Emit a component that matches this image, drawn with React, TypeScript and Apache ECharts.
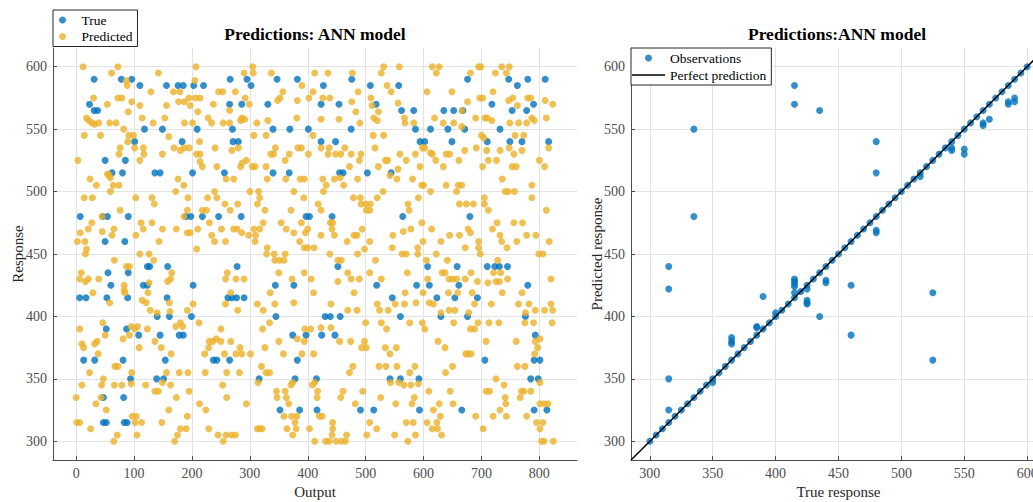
import { useEffect, useRef } from "react";
import * as echarts from "echarts";

// ---------- Left chart: True values per output index ----------
const trueA: number[][] = [
  [31,590],[78,590],[96,590],[23,570],[31,565],[37,565],[110,585],[156,585],[176,585],[185,585],[203,585],[220,585],[266,590],[265,570],[118,550],[149,550],[209,550],[101,540],[183,540],[50,525],[85,525],[62,515],[80,515],[136,515],[145,515],[201,515],[256,515],[7,480],[46,480],[54,480],[90,480],[190,480],[198,480],[218,480],[246,480],[50,460],[84,460],
  [55,435],[90,435],[60,425],[6,415],[17,415],[53,415],[89,415],[123,440],[127,440],[158,440],[116,425],[123,425],[202,425],[157,415],[262,415],[140,400],[161,400],[199,400],[52,390],[87,390],[108,385],[145,385],[178,385],[185,385],[13,365],[32,365],[81,365],[154,365],[237,365],[243,365],[265,365],[94,350],[139,350],[151,350],[47,335],[82,335],[47,315],[52,315],[83,315],[88,315]
];
const trueB: number[][] = [
  [295,590],[347,590],[382,590],[476,590],[302,585],[427,585],[508,585],[557,585],[286,570],[331,570],[423,570],[454,570],[518,570],[562,565],[270,550],[340,550],[369,550],[401,550],[475,550],[271,540],[280,540],[423,540],[448,540],[340,515],[368,515],[455,515],[461,515],[503,515],[544,515],[285,480],[397,480],[403,480],[442,480],[564,480],
  [278,440],[452,440],[344,425],[376,425],[519,425],[269,415],[277,415],[290,415],[546,415],[345,400],[430,400],[439,400],[456,400],[560,400],[374,385],[397,385],[424,385],[447,385],[382,365],[316,350],[378,350],[415,350],[542,350],[560,350],[352,325],[386,325],[416,325],[491,325],[514,325]
];
const trueC: number[][] = [
  [676,590],[747,590],[780,590],[810,590],[762,585],[718,570],[790,570],[583,565],[635,565],[652,565],[668,565],[753,565],[778,565],[586,550],[612,550],[642,550],[671,550],[732,550],[594,540],[602,540],[649,540],[710,540],[749,540],[770,540],[816,540],[680,480],
  [607,440],[658,440],[710,440],[723,440],[731,440],[745,440],[588,425],[610,425],[661,425],[780,425],[623,415],[654,415],[693,415],[630,400],[676,400],[776,400],[793,385],[706,365],[791,365],[801,365],[592,350],[785,350],[798,350],[593,325],[666,325],[791,325],[813,325]
];

// ---------- Left chart: Predicted values per output index ----------
const predA: number[][] = [
  [12,600],[72,600],[207,600],[61,595],[142,595],[87,589],[205,589],[88,585],[129,580],[168,580],[179,580],[246,580],[253,580],[30,575],[72,575],[79,575],[195,575],[206,575],[214,575],[96,572],[177,572],[187,572],[54,570],[110,569],[156,569],[197,569],[237,570],[90,564],[210,564],[18,559],[114,559],[153,559],[228,559],[22,557],[27,555],[32,554],[39,555],[58,555],[69,555],[133,555],[187,555],[201,555],[234,555],[254,555],[265,555],[82,550],[14,545],[42,545],[91,545],[99,545],[160,544],[89,540],[213,540],[116,535],[76,535],[169,535],[180,533],[187,535],[195,535],[240,535],[101,535],[117,530],[74,530],[149,530],[208,530],[214,530],[3,525],[110,525],[214,524],[218,520],[243,520],[54,514],[57,513],[59,511],[24,510],[259,510],[35,505],[64,505],[74,505],[176,510],[186,505],[59,500],[172,500],[239,500],[14,495],[28,495],[103,495],[131,495],[193,495],[227,495],[243,495],[135,490],[257,490],[76,485],[192,485],[218,485],[225,485],[266,485],[45,480],[186,480],[27,475],[112,475],[131,475],[230,475],[21,470],[45,468],[65,470],[116,470],[149,470],[173,470],[210,470],[251,470],[7,467],[192,467],[197,467],[62,465],[103,465],[234,465],[2,460],[15,460],[143,460],[239,460],[258,460],[18,454],[208,454],[110,450],[126,450],[16,450],
  [66,445],[134,445],[87,440],[92,440],[9,435],[165,435],[261,435],[6,430],[16,428],[21,430],[39,430],[83,425],[158,428],[163,430],[126,427],[83,421],[84,419],[124,419],[29,419],[58,411],[114,413],[121,411],[161,411],[202,410],[258,410],[128,405],[140,403],[162,404],[192,405],[6,390],[46,395],[95,392],[101,390],[106,392],[123,390],[172,392],[180,395],[184,392],[212,395],[250,390],[92,385],[230,380],[236,380],[242,382],[250,380],[229,375],[81,382],[10,378],[13,375],[32,378],[36,380],[50,385],[136,380],[147,375],[109,375],[164,370],[222,370],[38,370],[67,360],[72,360],[23,355],[96,355],[156,355],[178,355],[193,355],[223,355],[47,350],[10,345],[44,345],[66,345],[79,345],[95,346],[120,345],[149,347],[163,345],[253,345],[136,340],[142,340],[195,340],[0,335],[43,335],[173,335],[260,335],[34,330],[213,330],[52,325],[160,325],[224,325],[192,320],[97,320],[104,320],[1,315],[6,315],[102,315],[113,315],[148,315],[25,310],[180,310],[190,310],[229,310],[105,305],[71,305],[245,305],[259,305],[175,305],[65,300],[170,300],[254,300]
];
const predB: number[][] = [
  [305,600],[531,600],[558,600],[290,595],[306,595],[337,595],[412,595],[435,595],[477,595],[527,595],[390,585],[537,585],[357,580],[409,580],[487,580],[544,580],[275,580],[292,575],[348,573],[352,575],[382,573],[402,575],[426,575],[438,575],[476,572],[509,575],[556,571],[299,570],[511,569],[265,565],[483,564],[522,564],[381,559],[423,558],[454,558],[514,559],[520,557],[286,559],[291,558],[284,557],[312,555],[331,557],[490,555],[568,555],[307,545],[328,545],[409,545],[513,545],[531,545],[344,535],[383,535],[389,535],[423,535],[437,535],[464,535],[516,535],[269,533],[280,535],[341,530],[336,530],[368,530],[401,530],[435,530],[448,530],[457,530],[475,530],[492,530],[559,530],[294,525],[361,525],[534,525],[538,525],[287,523],[489,525],[304,520],[309,520],[284,520],[328,520],[472,520],[522,520],[556,518],[330,510],[362,510],[387,510],[394,510],[426,510],[446,510],[456,511],[486,510],[554,510],[272,510],[542,513],[432,505],[462,505],[427,500],[300,500],[315,500],[376,500],[530,500],[317,495],[393,495],[479,495],[491,495],[520,495],[279,490],[313,490],[418,490],[492,490],[500,490],[508,490],[326,485],[371,485],[423,485],[501,485],[507,485],[323,475],[354,475],[389,475],[439,475],[443,475],[400,470],[272,470],[278,470],[307,470],[317,470],[363,470],[442,470],[494,470],[286,467],[298,465],[310,465],[376,467],[396,467],[423,465],[446,465],[480,465],[485,465],[547,465],[309,460],[386,460],[468,460],[507,460],[330,455],[394,455],[400,455],[411,455],[546,455],[342,450],[361,450],[329,450],[438,450],[498,454],
  [486,450],[343,445],[351,445],[359,445],[452,445],[458,445],[517,445],[350,435],[394,435],[469,435],[507,435],[258,430],[276,430],[290,430],[373,430],[406,430],[452,428],[475,430],[489,430],[527,430],[335,419],[410,419],[267,419],[480,419],[520,410],[279,405],[313,410],[323,405],[343,410],[376,411],[440,410],[469,405],[485,405],[524,405],[539,405],[551,410],[567,410],[334,395],[322,390],[395,390],[405,390],[423,391],[440,391],[500,395],[527,395],[536,390],[350,380],[382,382],[394,380],[455,380],[474,380],[498,380],[493,375],[501,375],[267,380],[283,375],[286,370],[276,370],[256,370],[301,370],[326,375],[358,370],[390,370],[410,370],[534,375],[553,375],[542,370],[320,360],[328,355],[334,355],[478,360],[472,355],[523,360],[535,360],[554,360],[282,355],[260,355],[314,347],[374,347],[371,345],[408,345],[412,347],[543,347],[557,347],[346,340],[361,340],[417,340],[461,340],[495,340],[347,335],[363,335],[416,335],[457,335],[526,335],[294,330],[367,330],[482,330],[552,330],[359,320],[372,320],[381,320],[420,320],[425,320],[378,315],[443,315],[507,315],[313,310],[317,310],[321,310],[364,310],[380,310],[403,310],[443,310],[519,310],[269,305],[275,305],[374,305],[442,305],[467,305],[502,305],[550,305],[412,300],[431,300],[437,300],[449,300],[458,300],[465,300]
];
const predC: number[][] = [
  [615,600],[627,600],[695,600],[699,600],[735,600],[748,600],[622,595],[681,595],[724,595],[743,595],[606,580],[649,580],[720,580],[676,572],[697,575],[702,575],[747,573],[754,575],[780,575],[785,575],[810,573],[823,570],[762,569],[666,565],[567,559],[619,559],[690,559],[706,559],[710,559],[718,557],[787,559],[791,557],[812,559],[583,555],[634,555],[652,555],[666,552],[749,555],[764,555],[778,555],[700,545],[704,543],[758,545],[773,545],[598,535],[602,535],[612,531],[615,530],[645,530],[639,530],[671,533],[691,535],[732,533],[748,535],[816,535],[586,530],[709,533],[712,525],[726,525],[756,530],[770,533],[570,525],[621,525],[661,525],[800,525],[594,520],[634,520],[702,520],[753,520],[760,520],[809,520],[581,510],[736,510],[597,505],[600,505],[639,505],[660,505],[666,505],[787,505],[612,500],[657,500],[741,500],[746,500],[757,500],[591,495],[705,495],[787,495],[573,490],[662,490],[674,490],[686,490],[705,490],[575,485],[712,485],[812,485],[597,475],[727,475],[756,475],[771,475],[565,468],[578,470],[614,470],[677,470],[719,470],[681,467],[599,460],[630,460],[645,465],[662,465],[695,460],[732,465],[735,460],[761,460],[778,465],[794,465],[817,460],[590,455],[672,455],[695,455],[744,455],[622,450],[563,450],[570,450],[698,450],[799,450],[806,450],
  [590,450],[605,445],[641,445],[728,445],[572,435],[632,435],[637,435],[682,435],[721,435],[733,435],[607,430],[644,430],[650,430],[657,430],[672,430],[693,428],[711,427],[725,428],[731,428],[745,430],[820,430],[568,419],[599,419],[643,419],[659,419],[684,419],[736,419],[770,419],[587,411],[610,411],[617,410],[644,405],[654,405],[688,410],[717,410],[764,410],[782,410],[793,405],[809,405],[823,405],[820,410],[630,403],[678,403],[776,403],[576,395],[598,395],[602,390],[652,395],[681,390],[688,390],[694,395],[713,395],[730,395],[775,395],[822,395],[790,395],[801,382],[793,380],[797,375],[625,380],[637,375],[708,380],[760,380],[673,370],[677,370],[682,370],[792,370],[650,360],[762,360],[775,360],[576,355],[585,360],[638,355],[725,350],[739,345],[566,345],[578,345],[591,346],[714,340],[708,340],[609,340],[646,340],[769,340],[773,340],[785,340],[801,347],[584,335],[741,335],[767,335],[580,330],[627,330],[651,330],[742,330],[617,325],[732,325],[801,330],[808,330],[815,330],[629,320],[690,320],[720,320],[743,320],[778,320],[570,315],[582,315],[606,315],[623,315],[615,310],[624,310],[703,310],[795,315],[806,315],[801,310],[586,305],[631,305],[573,300],[804,300],[808,300],[824,300]
];

// ---------- Right chart: observations (true response, predicted response) ----------
const offDiagonal: number[][] = [
  [335,550],[335,480],[415,585],[415,570],[435,565],[480,540],[480,515],[480,469],[480,467],[515,512],[540,535],[540,533],[550,534],[550,530],[565,555],[565,553],[570,558],[585,572],[585,570],[590,575],[590,572],
  [315,440],[315,422],[315,350],[315,325],[365,383],[365,380],[365,378],[385,392],[385,391],[390,416],[400,403],[415,430],[415,428],[415,426],[415,424],[415,419],[425,422],[425,413],[425,411],[425,410],[435,400],[440,429],[440,427],[460,425],[460,385],[525,419],[525,365],[350,347]
];
// responses predicted exactly (true = predicted)
const exactValues: number[] = [
  300,305,310,315,320,325,330,335,340,345,350,355,360,365,370,375,380,385,390,395,
  400,405,410,415,420,425,430,435,440,445,450,455,460,465,470,475,480,485,490,495,
  500,505,510,515,520,525,530,535,540,545,550,555,560,565,570,575,580,585,590,595,600
];
const perfectLine: number[][] = [[285,285],[615,615]];

const FONT = "'Liberation Serif', 'Times New Roman', serif";
const BLUE = "#0072BD";
const YELLOW = "#EBB22A";
const AXIS = "#4d4d4d";
const GRIDC = "#e3e3e3";
const LINE_ICON = "path://M0,0 L44,0 L44,2 L0,2 Z";

function valueAxis(extra: any) {
  return {
    type: "value",
    axisLine: { show: true, onZero: false, lineStyle: { color: AXIS, width: 1 } },
    axisTick: { show: true, inside: true, length: 4, lineStyle: { color: AXIS } },
    axisLabel: { showMinLabel: false, showMaxLabel: false, fontFamily: FONT, fontSize: 14, color: AXIS, margin: 6 },
    splitLine: { show: true, showMinLine: false, showMaxLine: false, lineStyle: { color: GRIDC, width: 1 } },
    nameLocation: "middle",
    nameMoveOverlap: false,
    nameTextStyle: { fontFamily: FONT, fontSize: 15, color: "#262626" },
    ...extra,
  };
}

export default function App() {
  const ref = useRef<HTMLDivElement>(null);
  useEffect(() => {
    const chart = echarts.init(ref.current!, undefined, { renderer: "svg" });
    const legendBase = {
      orient: "vertical",
      itemHeight: 7,
      borderColor: "#262626",
      borderWidth: 1,
      borderRadius: 0,
      backgroundColor: "#ffffff",
      selectedMode: false,
      symbolKeepAspect: true,
      textStyle: { fontFamily: FONT, fontSize: 13.5, color: "#000" },
    };
    chart.setOption({
      animation: false,
      backgroundColor: "#ffffff",
      title: [
        { text: "Predictions: ANN model", left: 315, top: 25, textAlign: "center", padding: 0,
          textStyle: { fontFamily: FONT, fontSize: 17.5, fontWeight: "bold", color: "#000" } },
        { text: "Predictions:ANN model", left: 837, top: 25, textAlign: "center", padding: 0,
          textStyle: { fontFamily: FONT, fontSize: 17.5, fontWeight: "bold", color: "#000" } },
      ],
      legend: [
        { ...legendBase, data: ["True", "Predicted"], left: 53, top: 10, padding: [3, 5, 3, 6], itemWidth: 28, itemGap: 2.5 },
        { ...legendBase, data: ["Observations", { name: "Perfect prediction", icon: LINE_ICON }], left: 631, top: 48,
          padding: [3, 5, 3, 1], itemWidth: 33, itemGap: 3 },
      ],
      grid: [
        { left: 53, top: 48, width: 524, height: 412, containLabel: false, outerBoundsMode: "none" },
        { left: 631, top: 48, width: 415, height: 412, containLabel: false, outerBoundsMode: "none" },
      ],
      xAxis: [
        valueAxis({ gridIndex: 0, min: -40, max: 865, splitNumber: 9, name: "Output", nameGap: 24 }),
        valueAxis({ gridIndex: 1, min: 285, max: 615, splitNumber: 6, name: "True response", nameGap: 24 }),
      ],
      yAxis: [
        valueAxis({ gridIndex: 0, min: 285, max: 615, splitNumber: 6, name: "Response", nameGap: 28 }),
        valueAxis({ gridIndex: 1, min: 285, max: 615, splitNumber: 6, name: "Predicted response", nameGap: 27 }),
      ],
      series: [
        { name: "True", type: "scatter", xAxisIndex: 0, yAxisIndex: 0, symbol: "circle", symbolSize: 7,
          itemStyle: { color: BLUE }, data: [...trueA, ...trueB, ...trueC] },
        { name: "Predicted", type: "scatter", xAxisIndex: 0, yAxisIndex: 0, symbol: "circle", symbolSize: 7,
          itemStyle: { color: YELLOW }, data: [...predA, ...predB, ...predC] },
        { name: "Observations", type: "scatter", xAxisIndex: 1, yAxisIndex: 1, symbol: "circle", symbolSize: 7,
          itemStyle: { color: BLUE }, data: [...exactValues.map((v) => [v, v]), ...offDiagonal] },
        { name: "Perfect prediction", type: "line", xAxisIndex: 1, yAxisIndex: 1, symbol: "none",
          lineStyle: { color: "#000", width: 1.5 }, itemStyle: { color: "#000" }, data: perfectLine },
      ],
    });
    return () => chart.dispose();
  }, []);
  return (
    <div
      ref={ref}
      style={{ position: "fixed", left: 0, top: 0, width: 1033, height: 502, background: "#fff", overflow: "hidden" }}
    />
  );
}
